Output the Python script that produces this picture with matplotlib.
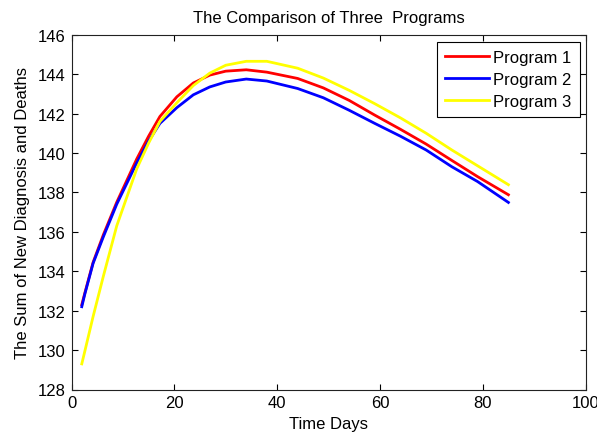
import matplotlib
matplotlib.use("Agg")
import matplotlib.pyplot as plt

plt.rcParams['font.family'] = ['Liberation Sans', 'DejaVu Sans']

days = [2, 2.6, 4.2, 6.2, 8.8, 12.7, 15, 17.2, 20.5, 23.7, 26.9, 30, 34, 38, 44, 49, 54, 59, 64, 69, 74, 79, 85]
program1 = [132.3, 132.9, 134.45, 135.85, 137.5, 139.7, 140.85, 141.85, 142.85, 143.55, 143.95, 144.15, 144.22,
            144.1, 143.78, 143.3, 142.67, 141.92, 141.2, 140.45, 139.62, 138.8, 137.88]
program2 = [132.2, 132.85, 134.4, 135.75, 137.4, 139.5, 140.6, 141.5, 142.3, 142.95, 143.35, 143.6, 143.75,
            143.65, 143.27, 142.8, 142.17, 141.5, 140.85, 140.15, 139.3, 138.55, 137.49]
program3 = [129.3, 129.95, 131.7, 133.75, 136.3, 139.2, 140.5, 141.6, 142.55, 143.42, 144.05, 144.45, 144.65,
            144.65, 144.3, 143.8, 143.18, 142.5, 141.78, 141.0, 140.15, 139.35, 138.39]
labels = ["Program 1", "Program 2", "Program 3"]
colors = ["#ff0000", "#0000ff", "#ffff00"]

xticks = [0, 20, 40, 60, 80, 100]
yticks = [128, 130, 132, 134, 136, 138, 140, 142, 144, 146]

fig = plt.figure(figsize=(5.97, 4.35), dpi=100)
ax = fig.add_axes([71.5/597, 1-390.5/435, (585.5-71.5)/597, (390.5-35.7)/435])

for ys, lab, c in zip([program1, program2, program3], labels, colors):
    ax.plot(days, ys, color=c, lw=2, label=lab)

ax.set_xlim(0, 100)
ax.set_ylim(128, 146)
ax.set_xticks(xticks)
ax.set_yticks(yticks)
ax.tick_params(direction='in', length=4, width=0.8, top=True, right=True,
               labelsize=12, pad=4, colors='black')
for s in ax.spines.values():
    s.set_linewidth(0.8)
    s.set_color('#222222')

ax.set_xlabel("Time Days", fontsize=12, labelpad=4)
ax.set_ylabel("The Sum of New Diagnosis and Deaths", fontsize=12, labelpad=6)
ax.set_title("The Comparison of Three  Programs", fontsize=12, pad=9)

leg = ax.legend(loc='upper right', bbox_to_anchor=(580/597, 1-42.7/435),
                bbox_transform=fig.transFigure, fontsize=12, fancybox=False,
                edgecolor='black', framealpha=1, handlelength=2.65,
                handletextpad=0.25, labelspacing=0.42, borderpad=0.5, borderaxespad=0)
leg.get_frame().set_linewidth(0.8)

fig.savefig("out.png", dpi=100)
